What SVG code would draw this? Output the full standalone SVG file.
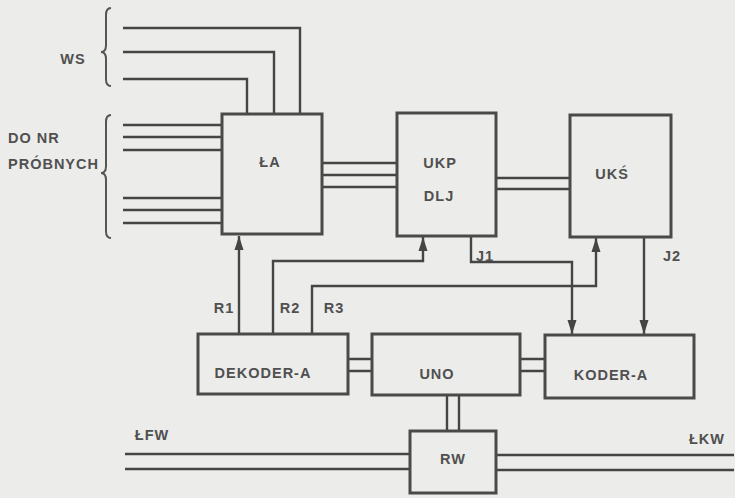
<svg xmlns="http://www.w3.org/2000/svg" width="735" height="498" viewBox="0 0 735 498">
<defs>
<marker id="ah" viewBox="0 0 14 10" refX="14" refY="5" markerWidth="14" markerHeight="10" markerUnits="userSpaceOnUse" orient="auto">
<path d="M0,0.5 L14,5 L0,9.5 Z" fill="#454545"/>
</marker>
<style>
.bx{fill:none;stroke:#4a4a4a;stroke-width:3}
.ln{fill:none;stroke:#454545;stroke-width:2.4}
.ar{fill:none;stroke:#454545;stroke-width:2.4;marker-end:url(#ah)}
.br{fill:none;stroke:#555;stroke-width:2}
text{font-family:"Liberation Sans",Arial,sans-serif;font-weight:bold;font-size:14.5px;fill:#505050;letter-spacing:1px}
.m{text-anchor:middle}
</style>
</defs>
<rect width="735" height="498" fill="#ececea"/>

<g id="labels-left">
<path class="br" d="M111,8 Q106,8 106,15 L106,45 Q106,52 101,52 Q106,52 106,59 L106,79 Q106,86 111,86"/>
<text class="m" x="73" y="64">WS</text>
<path class="br" d="M111,115 Q106,115 106,122 L106,166 Q106,173 101,173 Q106,173 106,180 L106,231 Q106,238 111,238"/>
<text x="8" y="143">DO NR</text>
<text x="8" y="169">PRÓBNYCH</text>
</g>

<g id="connectors">
<path class="ln" d="M123,28 H300 V114"/>
<path class="ln" d="M123,52 H274 V114"/>
<path class="ln" d="M123,79 H247 V114"/>
<path class="ln" d="M123,125 H222 M123,137 H222 M123,150 H222 M123,198 H222 M123,210 H222 M123,223 H222"/>
<path class="ln" d="M322,163 H397 M322,175 H397 M322,187 H397"/>
<path class="ln" d="M496,178 H570 M496,189 H570"/>
<path class="ar" d="M239,333 V236"/>
<path class="ar" d="M273,333 V261 H423 V237"/>
<path class="ar" d="M312,333 V286 H596 V238"/>
<path class="ar" d="M471,237 V262 H572 V334"/>
<path class="ar" d="M644,238 V334"/>
<path class="ln" d="M348,359 H372 M348,371 H372"/>
<path class="ln" d="M520,359 H545 M520,371 H545"/>
<path class="ln" d="M447,395 V431 M459,395 V431"/>
<path class="ln" d="M125,454 H410 M125,469 H410"/>
<path class="ln" d="M496,455 H734 M496,470 H734"/>
<text class="m" x="224" y="313">R1</text>
<text class="m" x="290" y="313">R2</text>
<text class="m" x="334" y="313">R3</text>
<text class="m" x="485" y="261">J1</text>
<text class="m" x="672" y="261">J2</text>
<text class="m" x="152" y="440">ŁFW</text>
<text class="m" x="707" y="444">ŁKW</text>
</g>

<g id="LA">
<rect class="bx" x="222" y="114" width="100" height="120"/>
<text class="m" x="270" y="167">ŁA</text>
</g>
<g id="UKP">
<rect class="bx" x="397" y="113" width="99" height="123"/>
<text class="m" x="440" y="168">UKP</text>
<text class="m" x="439" y="201">DLJ</text>
</g>
<g id="UKS">
<rect class="bx" x="570" y="115" width="101" height="122"/>
<text class="m" x="612" y="179">UKŚ</text>
</g>
<g id="DEKODER">
<rect class="bx" x="198" y="334" width="150" height="60"/>
<text class="m" x="263" y="378">DEKODER-A</text>
</g>
<g id="UNO">
<rect class="bx" x="372" y="334" width="148" height="61"/>
<text class="m" x="437" y="379">UNO</text>
</g>
<g id="KODER">
<rect class="bx" x="545" y="335" width="149" height="63"/>
<text class="m" x="611" y="380">KODER-A</text>
</g>
<g id="RW">
<rect class="bx" x="410" y="431" width="86" height="62"/>
<text class="m" x="453" y="464">RW</text>
</g>
</svg>
